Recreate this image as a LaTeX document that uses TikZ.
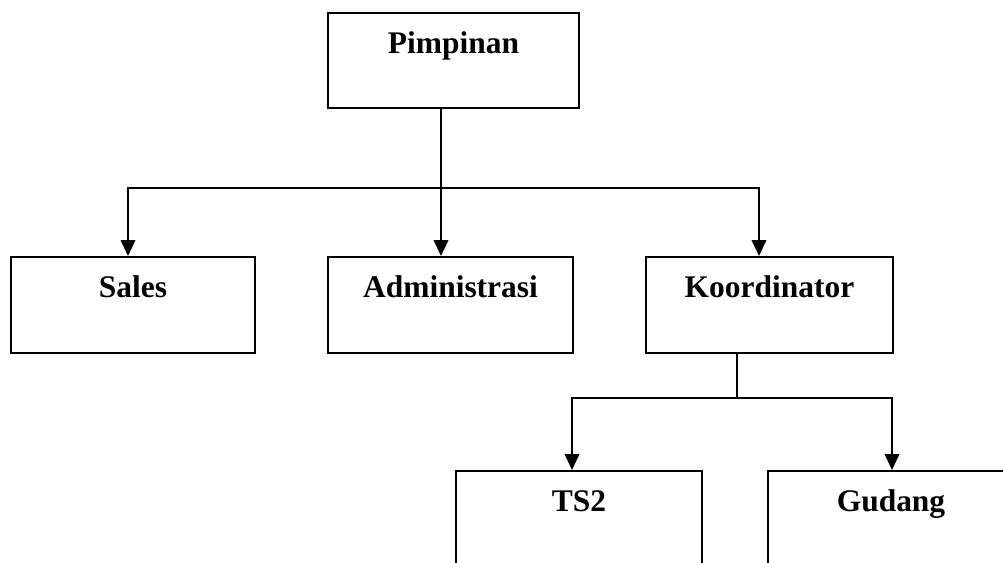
\documentclass[tikz,border=0pt]{standalone}
\usepackage{fontspec}
\setmainfont{Liberation Serif}
\usepackage{tikz}
\usetikzlibrary{calc,arrows.meta}

\tikzset{
  unitbox/.style={draw,line width=1.3pt,rectangle,inner sep=0pt,anchor=north,
    minimum width=184.5pt,text height=30.75pt,text depth=41.25pt,
    font=\fontsize{23.6}{28}\selectfont\bfseries},
  arr/.style={line width=1.3pt,-{Triangle[length=12pt,width=11pt]}},
  link/.style={line width=1.3pt}
}

\begin{document}
\begin{tikzpicture}[x=0.75pt,y=-0.75pt]
      \clip (0,0) rectangle (1003,562);
      \fill[white] (0,0) rectangle (1003,562);
      % kotak
      \node[unitbox,minimum width=188.25pt,text depth=40.5pt] (pimp) at (453.5,12) {Pimpinan};
      \node[unitbox,minimum width=183pt] (sales) at (133,256) {Sales};
      \node[unitbox,minimum width=183.75pt] (admin) at (450.5,256) {Administrasi};
      \node[unitbox,minimum width=185.25pt] (koord) at (769.5,256) {Koordinator};
      \node[unitbox] (ts) at (579,470) {TS2};
      \node[unitbox] (gudang) at (891,470) {Gudang};
      % garis
      \coordinate (hub1) at (441,188);
      \coordinate (hub2) at (737,398);
      \draw[link] (pimp.south -| hub1) -- (hub1);
      \draw[arr] (hub1) -| ($(sales.north)+(-5,0)$);
      \draw[arr] (hub1) -- (hub1 |- admin.north);
      \draw[arr] (hub1) -| ($(koord.north)+(-10.5,0)$);
      \draw[link] (koord.south -| hub2) -- (hub2);
      \draw[arr] (hub2) -| ($(ts.north)+(-7,0)$);
      \draw[arr] (hub2) -| ($(gudang.north)+(1,0)$);
\end{tikzpicture}
\end{document}
